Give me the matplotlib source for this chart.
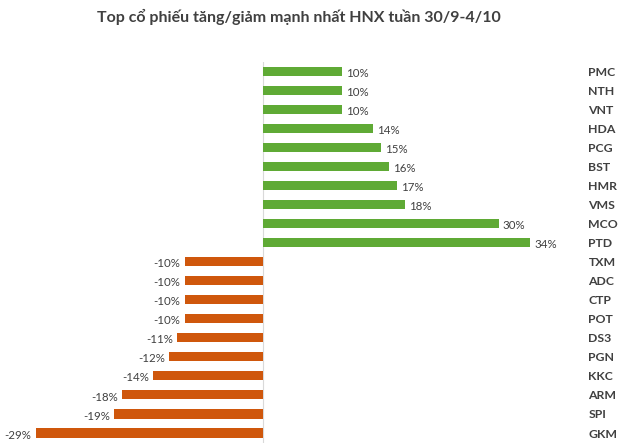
import matplotlib
matplotlib.use("Agg")
import matplotlib.pyplot as plt

plt.rcParams["font.family"] = ["Lato", "Open Sans", "DejaVu Sans"]

# --- datos: de arriba hacia abajo ---
MA_CK = ["PMC", "NTH", "VNT", "HDA", "PCG", "BST", "HMR", "VMS", "MCO", "PTD",
         "TXM", "ADC", "CTP", "POT", "DS3", "PGN", "KKC", "ARM", "SPI", "GKM"]
THAY_DOI = [10, 10, 10, 14, 15, 16, 17, 18, 30, 34,
            -10, -10, -10, -10, -11, -12, -14, -18, -19, -29]

XANH = "#5FAA35"
CAM = "#CF570C"
CHU = "#404040"

fig = plt.figure(figsize=(6.4, 4.47), dpi=100)
ax = fig.add_axes([0.031, 0.010, 0.871, 0.852])

pos = list(range(len(MA_CK)))[::-1]
colores = [XANH if v >= 0 else CAM for v in THAY_DOI]
ax.barh(pos, THAY_DOI, height=0.48, color=colores, zorder=2)

for y, v in zip(pos, THAY_DOI):
    if v >= 0:
        ax.annotate(f"{v}%", (v, y), textcoords="offset points", xytext=(3, -1.5),
                    ha="left", va="center", fontsize=8.3, color=CHU)
    else:
        ax.annotate(f"{v}%", (v, y), textcoords="offset points", xytext=(-3, -1.5),
                    ha="right", va="center", fontsize=8.3, color=CHU)

ax.axvline(0, color="#D9D9D9", lw=0.8, zorder=1)

ax.set_xlim(-31, 40)
ax.set_ylim(-0.5, len(MA_CK) - 0.5)
ax.set_yticks(pos)
ax.set_yticklabels(MA_CK, fontsize=8.8, fontweight="bold", color=CHU)
ax.yaxis.tick_right()
ax.tick_params(axis="y", length=0, pad=8)
ax.set_xticks([])
for s in ax.spines.values():
    s.set_visible(False)

fig.text(0.467, 0.962, "Top cổ phiếu tăng/giảm mạnh nhất HNX tuần 30/9-4/10",
         ha="center", va="center", fontsize=11.5, fontweight="bold", color=CHU)

fig.savefig("out.png", dpi=100)
